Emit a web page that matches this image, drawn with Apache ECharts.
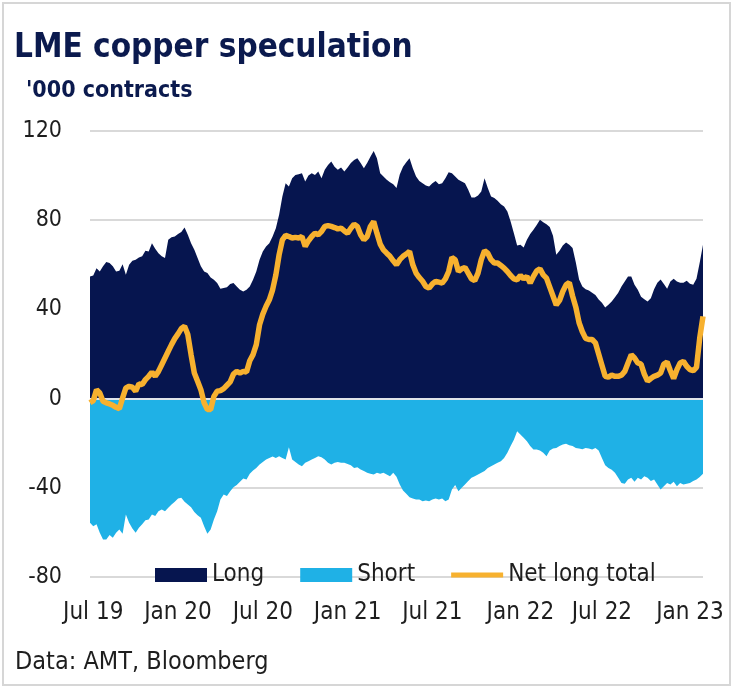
<!DOCTYPE html>
<html>
<head>
<meta charset="utf-8">
<script src="https://cdn.jsdelivr.net/npm/echarts@6/dist/echarts.min.js"></script>
<style>
html,body{margin:0;padding:0;background:#fff;}
#chart{width:739px;height:690px;}
</style>
</head>
<body>
<div id="chart"></div>
<script>
// Weekly observations (Fridays) starting 2019-06-28
const startDate = '2019-06-28';
const yTicks = [-80, -40, 0, 40, 80, 120];
const seriesNames = ['Long', 'Short', 'Net long total'];

const longPos = [
54.8,55.2,58.5,57,59.3,61.2,60.8,59.3,57,57.3,
60.3,55.5,60,61.8,62.3,63.3,63.8,66.3,66,69.7,
67.2,65.2,63.8,63,71.2,72.3,72.7,73.8,74.7,76.7,
73.5,69.7,66.7,63,59.3,57,56.3,54.3,53.3,51.8,
49.3,49.6,49.9,51.4,51.8,50.3,48.8,48,
48.8,50.3,53.3,57,62.3,66,68.2,69.7,72.7,76.4,
82.4,90.6,96.6,95.1,98.8,100.3,100.6,101.1,97.3,100,
101.1,100.3,101.8,98.8,102.6,104.8,106.3,104,102.6,103.6,
101.8,103.6,105.6,107,107.8,105.6,103.3,105.6,108.5,111,
107.8,101.1,99.6,98.1,97,96.1,94.4,
100.5,104,106,107.8,103.3,99.6,97.6,96.6,95.6,95.1,
96.6,97.6,96.1,96.6,98.8,101.5,101.1,99.6,98.1,97.3,
96.6,93.6,90.2,90.2,91.1,92.9,98.8,94.4,90.6,89.9,
88.7,87.2,86.1,83.9,79.4,74.2,68.7,69,67.8,71.2,
73.8,75.7,77.9,80.2,79.1,78.2,77,
73,64.5,66.3,68.7,70,69,67.5,61,53.4,50.3,
49,48.5,47.5,46.5,44.4,43,40.8,42.1,43.5,45.4,
47.5,50.3,52.5,54.7,54.8,51,48.8,45.7,44.5,43.5,
45,49,52,53.4,51.4,49.3,52.5,53.7,52.5,52,
52,52.9,51.5,51,53.7,61,69
];

const shortPos = [
-55.7,-57.2,-56.4,-60.2,-63.2,-63.2,-61.2,-62.4,-60.2,-58.7,
-60.6,-52,-55.7,-58.2,-60.2,-57.9,-56.4,-54.6,-54.2,-52,
-52.7,-50.5,-49.7,-50.5,-49,-47.5,-46.3,-44.8,-44.5,-46.3,
-47.5,-48.7,-50.8,-52.3,-53.4,-57.2,-60.6,-58.7,-54.2,-50.5,
-45.2,-43,-43.7,-41.5,-39.7,-38.8,-37.3,-35.8,
-36.3,-33.7,-32.2,-31.1,-29.6,-28.4,-27.3,-26.6,-26,-26.6,
-25.8,-26.6,-27.3,-21.8,-27.3,-28.4,-29.6,-30.3,-28.8,-28.1,
-27.3,-26.6,-25.8,-26.3,-27.3,-28.8,-29.6,-28.8,-28.4,-28.8,
-28.8,-29.3,-29.9,-31.1,-30.8,-31.8,-32.5,-33.3,-33.7,-34,
-33.3,-33.7,-33.3,-34,-34.8,-33.3,-35,
-38.5,-41.2,-42.7,-44.2,-44.8,-45.2,-45.2,-46,-45.7,-46,
-45.2,-44.8,-45.2,-44.8,-46,-45.2,-40.8,-38.8,-41.5,-40,
-38.5,-37,-35.5,-34.8,-34,-33.3,-32.5,-31.1,-30.3,-29.6,
-28.8,-28.1,-26.6,-24.3,-21.3,-18.4,-14.6,-16.1,-17.6,-19.1,
-21.3,-22.8,-22.8,-23.3,-24.3,-25.8,-23.3,
-22.4,-22.1,-21.3,-20.6,-20.3,-20.9,-21.3,-22.1,-22.4,-22.7,
-22.1,-22.4,-22.8,-22.1,-23.3,-26.6,-29.9,-31.1,-31.9,-33.3,
-35.5,-37.8,-38.2,-36.3,-35.5,-37.3,-35.5,-36.3,-34.8,-35.5,
-37,-36.3,-38.5,-40.8,-39.3,-37.8,-38.5,-37.3,-39.3,-37.8,
-38.5,-38.2,-37.8,-37,-36.3,-35.2,-33.7
];

const netPos = [
-1.9,-0.9,4,2.5,-1.2,-1.9,-2.4,-3,-3.9,-4.5,
0.3,4.8,5.5,5.1,3.3,6.6,6.3,8.5,10,11.9,
10,12.2,15.2,18.2,21.2,24.2,26.9,29,31.4,32.4,
28.7,19.7,11.5,7.8,4,-1.9,-4.9,-4.9,1,3.3,
3.6,4.5,6,7.5,11,12.2,11.5,12.2,
11.9,17,19.7,24.2,33.1,37.9,41.4,44.3,48.8,55.5,
64.5,71.2,73.2,72.7,72,72.3,72,72.7,68.2,70.8,
72.7,74.2,73.5,74.9,77.2,77.6,77.2,76.7,76.1,76.4,
75.2,74.2,76.4,78.2,77.2,73.5,71.2,72.7,77.2,79.4,
74.2,69.3,66.7,65.2,63.8,61.8,60,
62.3,63.8,64.8,66,60,56.3,54.3,52.6,50.3,49.6,
51.4,52.6,52.2,51.8,53.7,57,63.3,62.3,57,58.2,
58.8,56.3,53.7,52.9,56.3,62.3,66.3,65.2,62.3,60.8,
60.8,59.7,58.5,57,55.2,53.7,53.3,55.2,53.7,54.8,
51.8,54.8,57.3,58.2,55.5,54,50,
46,42,44,48,51,52,46,41,34,30,
27,26.5,26.5,25,20,15,10,9.6,10.5,10,
10,10.5,12.2,16,19.7,18.2,16,15.5,11,7.8,
9,10,10.5,11.5,15.5,16.4,12.5,9,13,16,
16.7,14.5,13,12.5,14,27.2,36.9
];

// Build weekly category labels (one per data point)
const dates = [];
(function(){
  const d0 = new Date(startDate + 'T00:00:00Z');
  for (let i = 0; i < longPos.length; i++) {
    const d = new Date(d0.getTime() + i * 7 * 86400000);
    dates.push(d.toISOString().slice(0, 10));
  }
})();
const monthNames = ['Jan','Feb','Mar','Apr','May','Jun','Jul','Aug','Sep','Oct','Nov','Dec'];

const FONT = '"DejaVu Sans Condensed", "DejaVu Sans", sans-serif';
const NAVY = '#0b1a4e';
const NET_COLOR = '#f7b12f';
// thin bar icon for the line legend entry (bbox 52x14, visible band in the middle)
const lineIcon = 'path://M0,0H52V0.01H0Z M0,4.5H52V9.5H0Z M0,13.99H52V14H0Z';

const chart = echarts.init(document.getElementById('chart'), null, {renderer: 'canvas'});
chart.setOption({
  animation: false,
  backgroundColor: '#ffffff',
  textStyle: {fontFamily: FONT},
  graphic: [{
    type: 'rect',
    shape: {x: 3, y: 3, width: 727, height: 682},
    style: {fill: 'none', stroke: '#d6d6d6', lineWidth: 2},
    silent: true, z: -10
  }],
  title: [
    {text: 'LME copper speculation', left: 14, top: 32, padding: 0,
     textStyle: {fontFamily: FONT, fontSize: 33, fontWeight: 'bold', color: NAVY}},
    {text: "'000 contracts", left: 26, top: 80, padding: 0,
     textStyle: {fontFamily: FONT, fontSize: 23, fontWeight: 'bold', color: NAVY}},
    {text: 'Data: AMT, Bloomberg', left: 15, top: 650, padding: 0,
     textStyle: {fontFamily: FONT, fontSize: 25, fontWeight: 'normal', color: '#1e1e1e'}}
  ],
  legend: {
    left: 155, top: 563, padding: 0,
    itemWidth: 52, itemHeight: 14, itemGap: 36,
    textStyle: {fontFamily: FONT, fontSize: 24, color: '#1e1e1e'},
    data: [
      {name: seriesNames[0], icon: 'rect'},
      {name: seriesNames[1], icon: 'rect'},
      {name: seriesNames[2], icon: lineIcon, itemStyle: {color: NET_COLOR}}
    ]
  },
  grid: {left: 90, right: 36, top: 131, bottom: 113, containLabel: false},
  xAxis: {
    type: 'category',
    data: dates,
    boundaryGap: false,
    axisLine: {show: false},
    axisTick: {show: false},
    splitLine: {show: false},
    axisLabel: {
      fontFamily: FONT, fontSize: 24, color: '#1e1e1e', margin: 24,
      interval: function(idx, val){
        const d = new Date(val + 'T00:00:00Z');
        const m = d.getUTCMonth();
        return (m === 0 || m === 6) && d.getUTCDate() <= 7;
      },
      formatter: function(val){
        const d = new Date(val + 'T00:00:00Z');
        return monthNames[d.getUTCMonth()] + ' ' + String(d.getUTCFullYear()).slice(2);
      }
    }
  },
  yAxis: {
    type: 'value',
    min: yTicks[0], max: yTicks[yTicks.length - 1], interval: 40,
    axisLine: {show: false},
    axisTick: {show: false},
    axisLabel: {fontFamily: FONT, fontSize: 23, color: '#1e1e1e', margin: 28},
    splitLine: {lineStyle: {color: '#d9d9d9', width: 2}}
  },
  series: [
    {
      name: seriesNames[0], type: 'line', data: longPos, z: 1,
      color: '#06154f', symbol: 'none', showSymbol: false,
      lineStyle: {width: 0, opacity: 0},
      areaStyle: {color: '#06154f', opacity: 1}
    },
    {
      name: seriesNames[1], type: 'line', data: shortPos, z: 2,
      color: '#1fb1e6', symbol: 'none', showSymbol: false,
      lineStyle: {width: 0, opacity: 0},
      areaStyle: {color: '#1fb1e6', opacity: 1},
      markLine: {
        silent: true, symbol: ['none', 'none'], animation: false,
        label: {show: false},
        lineStyle: {color: '#dfe4ea', width: 2, type: 'solid'},
        data: [{yAxis: 0}]
      }
    },
    {
      name: seriesNames[2], type: 'line', data: netPos, z: 5,
      color: NET_COLOR, symbol: 'none', showSymbol: false,
      lineStyle: {width: 5.5, color: NET_COLOR}
    }
  ]
});
</script>
</body>
</html>
